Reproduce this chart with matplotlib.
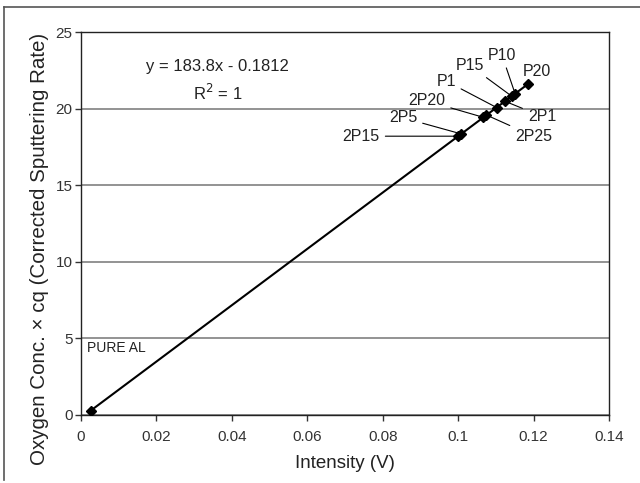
import matplotlib.pyplot as plt
import numpy as np

plt.rcParams['font.family'] = ['Liberation Sans', 'DejaVu Sans']

# sample readings (intensity V, corrected sputtering rate)
names = ["PURE AL", "2P15", "2P5", "2P20", "2P25", "P1", "2P1", "P15", "P10", "P20"]
intensity = [0.0026, 0.1000, 0.1008, 0.1067, 0.1075, 0.1102, 0.1124, 0.1142, 0.1151, 0.1186]
rate = [0.29, 18.20, 18.35, 19.43, 19.58, 20.07, 20.48, 20.81, 20.97, 21.62]

# label positions (data coords) for each sample
label_x = [0.0015, 0.0743, 0.0854, 0.0917, 0.1200, 0.0968, 0.1222, 0.1032, 0.1116, 0.1210]
label_y = [4.4, 18.2, 19.4, 20.5, 18.2, 21.8, 19.5, 22.8, 23.5, 22.4]
leader = [False, True, True, True, True, True, True, True, True, False]


def main():
    fig = plt.figure(figsize=(6.4, 4.83), dpi=100)
    ax = fig.add_axes([0.1266, 0.1408, 0.825, 0.7929])

    x = np.array(intensity)
    y = np.array(rate)
    k, b = np.polyfit(x, y, 1)
    xs = np.array([x.min(), x.max()])
    ax.plot(xs, k * xs + b, color='black', lw=1.5, zorder=3)
    ax.plot(x, y, 'D', color='black', ms=5, zorder=4)

    for i, n in enumerate(names):
        if n == "PURE AL":
            ax.text(label_x[i], label_y[i], n, fontsize=10, ha='left', va='center',
                    color='#222222')
        elif leader[i]:
            ax.annotate(n, xy=(x[i], y[i]), xytext=(label_x[i], label_y[i]),
                        fontsize=11.5, ha='center', va='center', color='#222222',
                        arrowprops=dict(arrowstyle='-', color='black', lw=0.8,
                                        shrinkA=2, shrinkB=0))
        else:
            ax.text(label_x[i], label_y[i], n, fontsize=11.5, ha='center', va='center',
                    color='#222222')

    ax.text(0.0363, 22.75, "y = 183.8x - 0.1812", fontsize=12, ha='center', va='center',
            color='#222222')
    ax.text(0.0363, 21.0, "R$^2$ = 1", fontsize=12, ha='center', va='center',
            color='#222222')

    ax.set_xlim(0, 0.14)
    ax.set_ylim(0, 25)
    ax.set_xticks(np.arange(0, 0.141, 0.02))
    ax.set_xticklabels(["0", "0.02", "0.04", "0.06", "0.08", "0.1", "0.12", "0.14"])
    ax.set_yticks([0, 5, 10, 15, 20, 25])
    ax.yaxis.grid(True, color='#808080', lw=1.2)
    ax.set_axisbelow(True)
    ax.tick_params(labelsize=11, length=4, width=1, colors='#333333', labelcolor='#333333')
    ax.tick_params(axis='x', pad=7)
    ax.tick_params(axis='y', pad=2)
    for s in ax.spines.values():
        s.set_color('#222222')
        s.set_linewidth(1)

    ax.set_xlabel("Intensity (V)", fontsize=13.5, color='#222222', labelpad=8)
    fig.text(0.0625, 0.4845, "Oxygen Conc. \u00d7 cq (Corrected Sputtering Rate)",
             fontsize=14.8, color='#222222', rotation=90, ha='center', va='center')

    # partial outer frame
    fig.add_artist(plt.Line2D([0.0063, 0.0063], [0.006, 0.985], color='#555555', lw=1.2))
    fig.add_artist(plt.Line2D([0.0063, 1.0], [0.985, 0.985], color='#555555', lw=1.2))

    fig.savefig("out.png", dpi=100)


if __name__ == "__main__":
    main()
